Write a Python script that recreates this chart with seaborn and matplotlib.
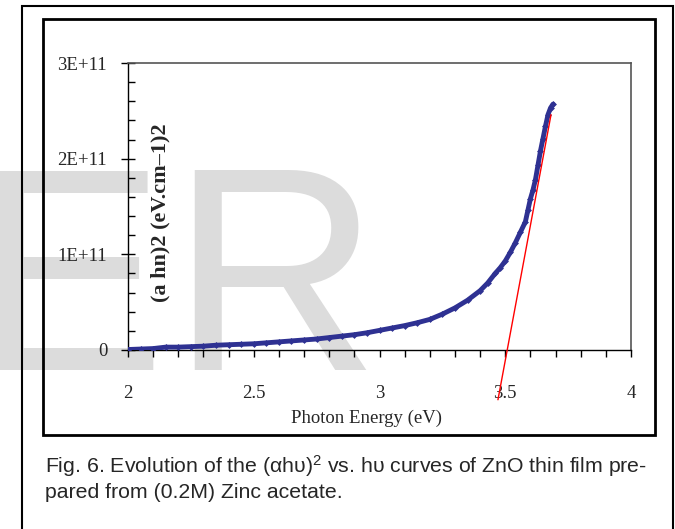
import matplotlib
matplotlib.use("Agg")
import matplotlib.pyplot as plt
import seaborn as sns
import pandas as pd
from matplotlib.patches import Rectangle

# ---- data ----
energy = [2.00, 2.05, 2.10, 2.15, 2.20, 2.25, 2.30, 2.35, 2.40, 2.45, 2.50,
          2.55, 2.60, 2.65, 2.70, 2.75, 2.80, 2.85, 2.90, 2.95, 3.00, 3.05,
          3.10, 3.15, 3.20, 3.25, 3.30, 3.35, 3.40, 3.43, 3.46, 3.48, 3.50,
          3.52, 3.54, 3.56, 3.58, 3.59, 3.60, 3.61, 3.62, 3.63, 3.64, 3.65,
          3.66, 3.67, 3.68, 3.69]
ahv2_e10 = [0.05, 0.10, 0.15, 0.30, 0.30, 0.35, 0.40, 0.50, 0.55, 0.60, 0.65,
            0.75, 0.85, 0.95, 1.05, 1.15, 1.30, 1.45, 1.60, 1.80, 2.05, 2.30,
            2.55, 2.85, 3.20, 3.75, 4.40, 5.20, 6.20, 7.00, 8.00, 8.60, 9.30,
            10.2, 11.2, 12.3, 13.4, 14.6, 15.8, 16.7, 17.8, 19.3, 20.8, 22.1,
            23.4, 24.6, 25.3, 25.7]
fit_energy = [3.471, 3.682]
fit_value_e10 = [-5.2, 24.6]

yticks = [0, 1e11, 2e11, 3e11]
ytick_labels = ["0", "1E+11", "2E+11", "3E+11"]
xticks = [2, 2.5, 3, 3.5, 4]
xtick_labels = ["2", "2.5", "3", "3.5", "4"]

df = pd.DataFrame({"E": energy, "V": [v * 1e10 for v in ahv2_e10]})
fit = pd.DataFrame({"E": fit_energy, "V": [v * 1e10 for v in fit_value_e10]})

sns.set_style("white")
plt.rcParams["font.family"] = ["Liberation Serif", "DejaVu Sans"]
plt.rcParams["mathtext.fontset"] = "custom"
plt.rcParams["mathtext.rm"] = "Liberation Sans"
plt.rcParams["mathtext.it"] = "Liberation Sans"

W, H = 675, 529
fig = plt.figure(figsize=(W / 100, H / 100), dpi=100)
fig.patch.set_facecolor("white")

def fx(x):
    return x / W

def fy(y):
    return 1 - y / H

# watermark
fig.text(fx(-28), fy(370), "E", fontsize=208, color="#dcdcdc",
         family="Liberation Sans", ha="left", va="baseline", zorder=-5)
fig.text(fx(170), fy(370), "R", fontsize=208, color="#dcdcdc",
         family="Liberation Sans", ha="left", va="baseline", zorder=-5)

# frames
fig.add_artist(Rectangle((fx(22), fy(545)), fx(673) - fx(22), fy(6) - fy(545),
                         transform=fig.transFigure, fill=False,
                         edgecolor="black", lw=1.5, zorder=5))
fig.add_artist(Rectangle((fx(43), fy(435)), fx(655) - fx(43), fy(19) - fy(435),
                         transform=fig.transFigure, fill=False,
                         edgecolor="black", lw=2.0, zorder=5))

ax = fig.add_axes([fx(128), fy(350), fx(631) - fx(128), fy(63) - fy(350)])
ax.set_facecolor("none")

sns.lineplot(data=df, x="E", y="V", ax=ax, color="#2e3192", lw=3.5,
             marker="D", markersize=3.5, markeredgewidth=0, zorder=3)
sns.lineplot(data=fit, x="E", y="V", ax=ax, color="red", lw=1.0, zorder=4)
for l in ax.lines[-1:]:
    l.set_clip_on(False)

ax.set_xlim(2, 4)
ax.set_ylim(0, 3e11)
ax.set_xticks(xticks)
ax.set_xticklabels(xtick_labels)
ax.set_yticks(yticks)
ax.set_yticklabels(ytick_labels)
ax.set_xticks([2 + 0.1 * i for i in range(21)], minor=True)
ax.set_yticks([i * 2e10 for i in range(16)], minor=True)
ax.tick_params(axis="x", which="both", direction="out", length=5, width=1,
               color="black", labelsize=13.5, pad=20)
ax.tick_params(axis="y", which="major", direction="inout", length=10, width=1,
               color="black", labelsize=13.5, pad=10)
ax.tick_params(axis="y", which="minor", direction="in", length=5, width=1,
               color="black")
ax.tick_params(left=True, bottom=True, which="both")
ax.set_xlabel("")
ax.set_ylabel("")

for s in ["left", "bottom"]:
    ax.spines[s].set_color("black")
    ax.spines[s].set_linewidth(1.0)
for s in ["top", "right"]:
    ax.spines[s].set_color("#555555")
    ax.spines[s].set_linewidth(1.2)

ax.text(0.064, 0.48, "(a hn)2 (eV.cm\u20131)2", transform=ax.transAxes,
        rotation=90, ha="center", va="center", fontsize=16, fontweight="bold")
fig.text(fx(366), fy(418), "Photon Energy (eV)", ha="center", va="center",
         fontsize=13.5)

fig.text(fx(45), fy(466),
         "Fig. 6. Evolution of the (\u03b1h\u03c5)$^{2}$ vs. h\u03c5 curves of ZnO thin film pre-",
         family="Liberation Sans", fontsize=15.3, ha="left", va="center")
fig.text(fx(45), fy(492), "pared from (0.2M) Zinc acetate.",
         family="Liberation Sans", fontsize=15.3, ha="left", va="center")

fig.savefig("out.png", dpi=100)
